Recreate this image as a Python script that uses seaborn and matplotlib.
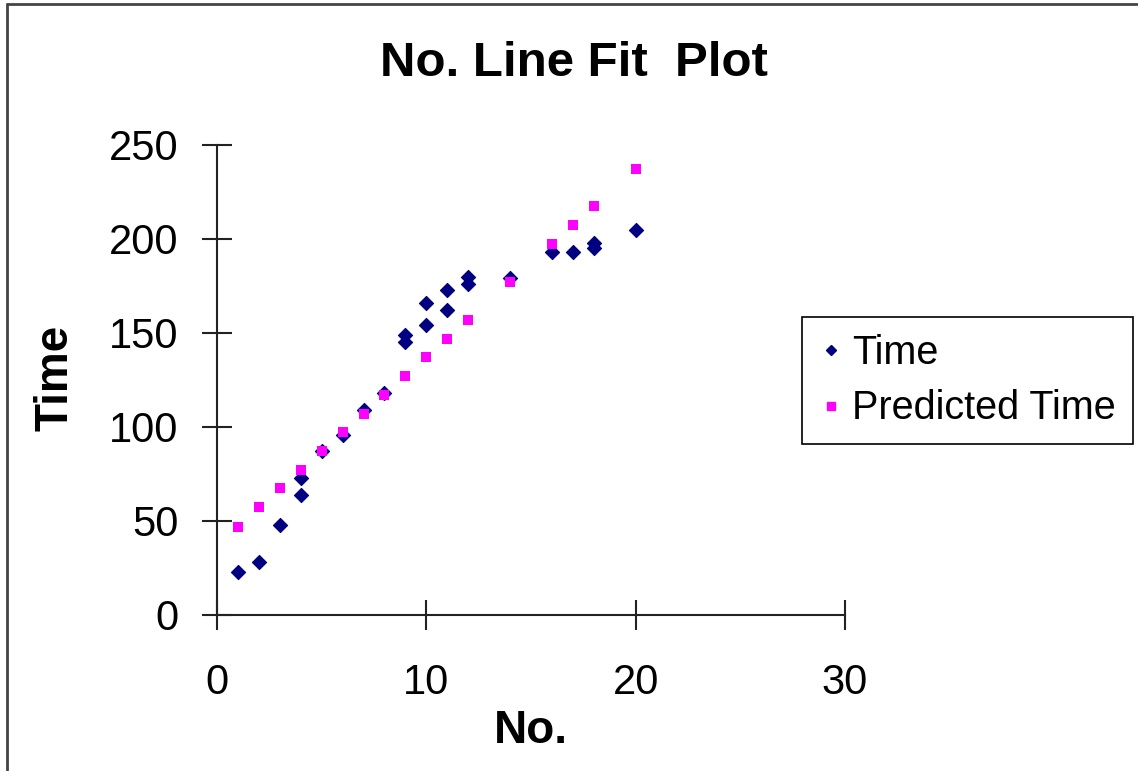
import matplotlib
matplotlib.use("Agg")
import matplotlib.pyplot as plt
import seaborn as sns
import pandas as pd
from matplotlib.lines import Line2D

# Data
no_values = [1, 2, 3, 4, 4, 5, 6, 7, 8, 9, 9, 10, 10, 11, 11, 12, 12, 14, 16, 17, 18, 18, 20]
time_values = [23, 28, 48, 64, 73, 87, 96, 109, 118, 145, 149, 154, 166, 162, 173, 176, 180,
               179, 193, 193, 195, 198, 205]
predicted_values = [46.6, 57.2, 67.4, 77.3, 77.3, 87.2, 97.1, 107.1, 117.0, 127.1, 127.1,
                    137.1, 137.1, 147.0, 147.0, 157.1, 157.1, 177.3, 197.4, 207.3, 217.4,
                    217.4, 237.3]
x_ticks = [0, 10, 20, 30]
y_ticks = [0, 50, 100, 150, 200, 250]

sns.set_theme(style="white")
plt.rcParams["font.family"] = ["Liberation Sans", "DejaVu Sans"]
plt.rcParams["text.color"] = "black"

df = pd.DataFrame({"No.": no_values, "Time": time_values, "Predicted Time": predicted_values})

fig = plt.figure(figsize=(11.38, 7.71), dpi=100)
ax = fig.add_axes([217 / 1138, 1 - 615 / 771, (845 - 217) / 1138, (615 - 145) / 771])

sns.scatterplot(data=df, x="No.", y="Time", ax=ax, marker="D", color="#000080",
                s=52, edgecolor="#000080", linewidth=0.8, zorder=3, legend=False)
sns.scatterplot(data=df, x="No.", y="Predicted Time", ax=ax, marker="s", color="#FF00FF",
                s=62, edgecolor="#FF00FF", linewidth=0, zorder=4, legend=False)

ax.set_xlim(0, 30)
ax.set_ylim(0, 250)
ax.set_xticks(x_ticks)
ax.set_yticks(y_ticks)
ax.set_xticklabels([str(v) for v in x_ticks])
ax.set_yticklabels([str(v) for v in y_ticks])
ax.set_xlabel("")
ax.set_ylabel("")

for side in ["top", "right"]:
    ax.spines[side].set_visible(False)
for side in ["left", "bottom"]:
    ax.spines[side].set_visible(True)
    ax.spines[side].set_color("#222222")
    ax.spines[side].set_linewidth(1.5)

ax.tick_params(axis="both", which="major", direction="inout", length=21.6, width=1.5,
               color="#222222", labelsize=30, labelcolor="black",
               bottom=True, left=True, top=False, right=False)
ax.tick_params(axis="x", pad=24)
ax.tick_params(axis="y", pad=17)
ax.grid(False)
ax.set_facecolor("white")

fig.text(574 / 1138, 1 - 63 / 771, "No. Line Fit  Plot", ha="center", va="center",
         fontsize=35.5, fontweight="bold", color="black")
fig.text(531 / 1138, 1 - 731 / 771, "No.", ha="center", va="center",
         fontsize=33, fontweight="bold", color="black")
fig.text(55 / 1138, 1 - 378 / 771, "Time", ha="center", va="center", rotation=90,
         fontsize=33, fontweight="bold", color="black")

handles = [
    Line2D([], [], marker="D", linestyle="none", color="#000080", markersize=5.5),
    Line2D([], [], marker="s", linestyle="none", color="#FF00FF", markersize=5.5),
]
leg = fig.legend(handles, ["Time", "Predicted Time"], loc="upper left",
                 bbox_to_anchor=(802 / 1138, 1 - 317 / 771), fontsize=28.5,
                 frameon=True, fancybox=False, framealpha=1, edgecolor="black",
                 borderpad=0.42, handletextpad=0.25, handlelength=0.6, labelspacing=0.45,
                 borderaxespad=0)
leg.get_frame().set_linewidth(1.2)
for t in leg.get_texts():
    t.set_color("black")

# figure border (left and top)
fig.add_artist(Line2D([7 / 1138, 7 / 1138], [0, 1 - 4 / 771], transform=fig.transFigure,
                      color="#444444", linewidth=2))
fig.add_artist(Line2D([7 / 1138, 1], [1 - 4 / 771, 1 - 4 / 771], transform=fig.transFigure,
                      color="#444444", linewidth=2))

fig.savefig("out.png", dpi=100, facecolor="white")
